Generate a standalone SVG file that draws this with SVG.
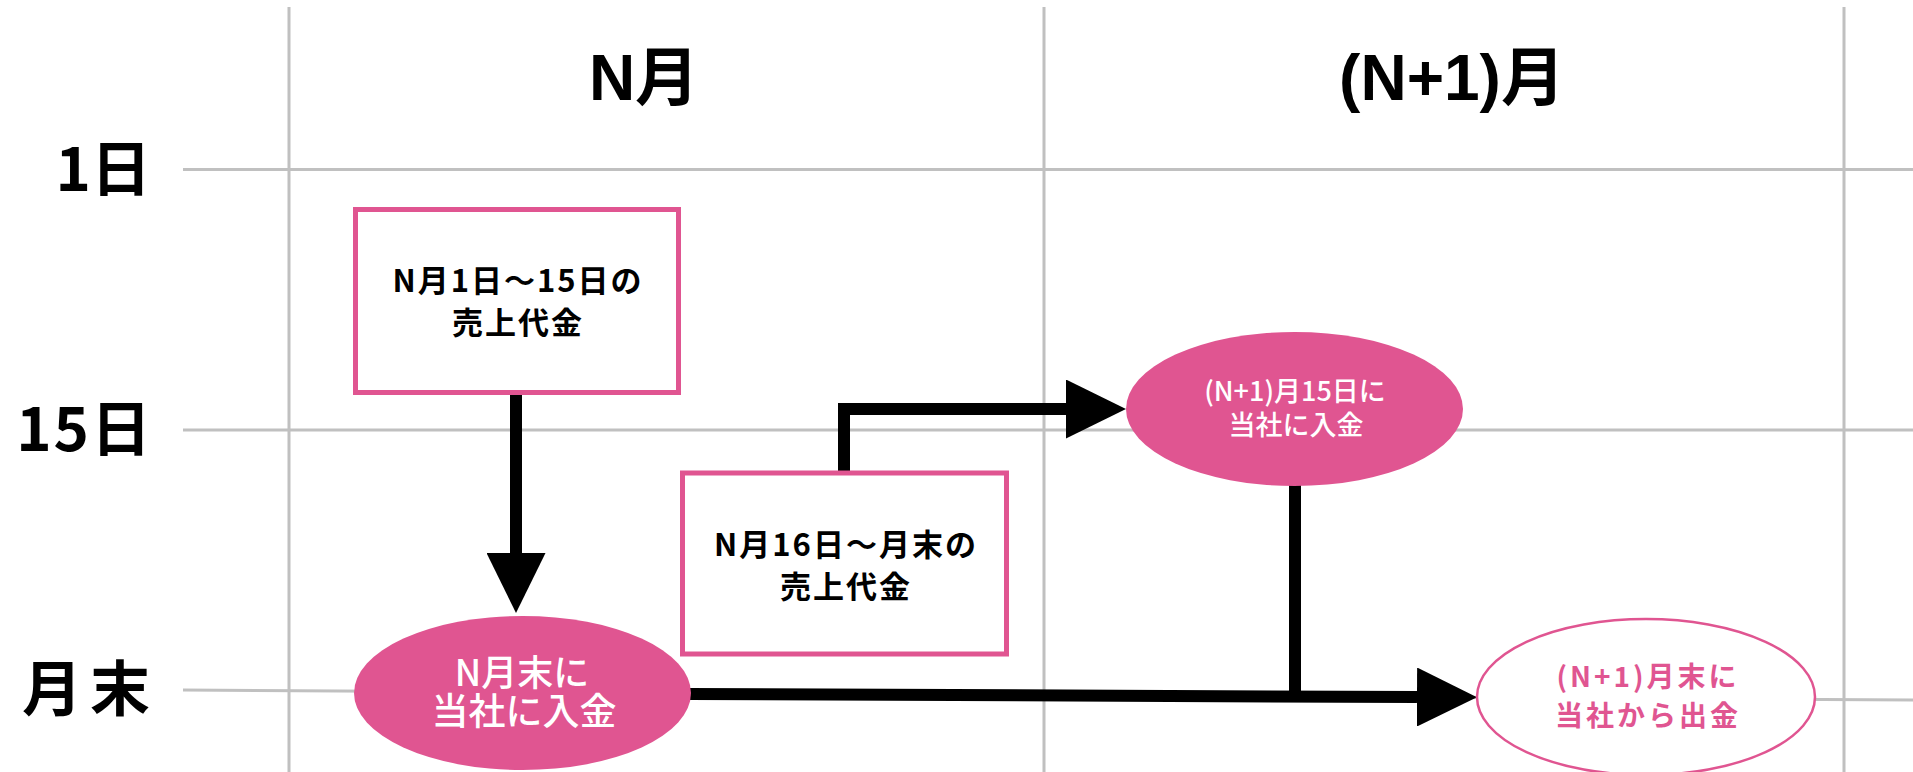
<svg xmlns="http://www.w3.org/2000/svg" width="1913" height="772" viewBox="0 0 1913 772">
<style>
.grid{stroke:#c0c0c0;stroke-width:3;fill:none}
.head{font-family:"Liberation Sans","Noto Sans CJK JP",sans-serif;font-weight:bold;font-size:64px;fill:#000;text-anchor:middle}
.row{font-family:"Noto Sans CJK JP",sans-serif;font-weight:bold;font-size:60px;fill:#000;text-anchor:end}
.box{fill:#fff;stroke:#e05591;stroke-width:5}
.btxt{font-family:"Noto Sans CJK JP",sans-serif;font-weight:bold;font-size:31px;fill:#000;text-anchor:middle;letter-spacing:2px}
.ell{fill:#e05591}
.ellO{fill:#fff;stroke:#e05591;stroke-width:2.5}
.wtxt{font-family:"Noto Sans CJK JP",sans-serif;font-weight:500;fill:#fff;text-anchor:middle}
.ptxt{font-family:"Noto Sans CJK JP",sans-serif;font-weight:bold;font-size:28px;fill:#e05591;text-anchor:middle;letter-spacing:3px}
.conn{stroke:#000;stroke-width:12;fill:none;stroke-linecap:butt;stroke-linejoin:miter}
</style>
<defs>
<marker id="ah" viewBox="0 0 60 59" refX="0" refY="29.5" markerWidth="60" markerHeight="59" markerUnits="userSpaceOnUse" orient="auto">
<path d="M0,0 L60,29.5 L0,59 Z" fill="#000"/>
</marker>
</defs>
<rect width="1913" height="772" fill="#fff"/>
<g id="grid">
<line class="grid" x1="289" y1="7" x2="289" y2="772"/>
<line class="grid" x1="1044" y1="7" x2="1044" y2="772"/>
<line class="grid" x1="1844" y1="7" x2="1844" y2="772"/>
<line class="grid" x1="183" y1="169.5" x2="1913" y2="169.5"/>
<line class="grid" x1="183" y1="430" x2="1913" y2="430"/>
<line class="grid" x1="183" y1="690" x2="1913" y2="700"/>
</g>
<g id="headers">
<text class="head" x="644" y="100">N月</text>
<text class="head" x="1452" y="100">(N+1)月</text>
<text class="row" x="151" y="191">1日</text>
<text class="row" x="153" y="451" letter-spacing="2">15日</text>
<text class="row" x="158" y="711" letter-spacing="8">月末</text>
</g>
<g id="connectors">
<path class="conn" d="M516,393 V553" marker-end="url(#ah)"/>
<path class="conn" d="M844,473 V409 H1066" marker-end="url(#ah)"/>
<path class="conn" d="M690,694 L1417,697" marker-end="url(#ah)"/>
<path class="conn" d="M1295,485 V691"/>
</g>
<g id="box1">
<rect class="box" x="355.5" y="209.5" width="323" height="183"/>
<text class="btxt" x="518" y="292">N月1日～15日の</text>
<text class="btxt" x="518" y="334">売上代金</text>
</g>
<g id="box2">
<rect class="box" x="682.5" y="473" width="324" height="181"/>
<text class="btxt" x="846" y="556">N月16日～月末の</text>
<text class="btxt" x="846" y="598">売上代金</text>
</g>
<g id="ellA">
<ellipse class="ell" cx="522.5" cy="693" rx="168.5" ry="77"/>
<text class="wtxt" x="522" y="686" font-size="36">N月末に</text>
<text class="wtxt" x="524" y="725" font-size="37">当社に入金</text>
</g>
<g id="ellB">
<ellipse class="ell" cx="1294.5" cy="409" rx="168.5" ry="77"/>
<text class="wtxt" x="1295" y="401" font-size="27">(N+1)月15日に</text>
<text class="wtxt" x="1296" y="435" font-size="27">当社に入金</text>
</g>
<g id="ellC">
<ellipse class="ellO" cx="1646" cy="697" rx="169" ry="78"/>
<text class="ptxt" x="1648" y="687">(N+1)月末に</text>
<text class="ptxt" x="1648" y="726">当社から出金</text>
</g>
</svg>
